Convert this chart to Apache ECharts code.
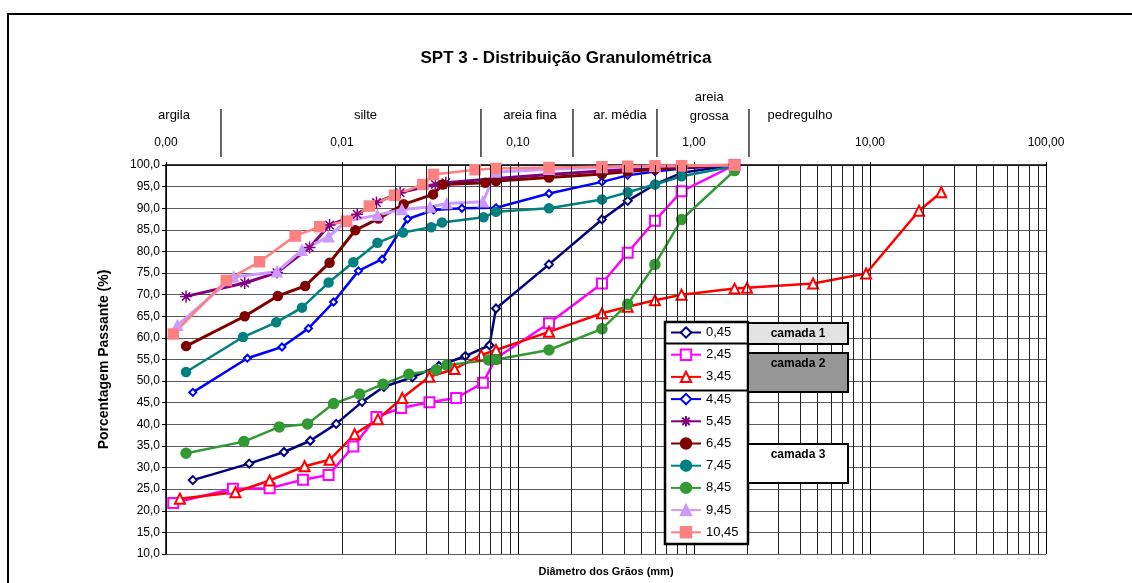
<!DOCTYPE html>
<html>
<head>
<meta charset="utf-8">
<title>SPT 3 - Distribuição Granulométrica</title>
<style>
html, body { margin: 0; padding: 0; background: #fff; }
#main { width: 1132px; height: 583px; }
</style>
</head>
<body>
<div id="main"></div>
<script src="https://cdn.jsdelivr.net/npm/echarts@6/dist/echarts.min.js"></script>
<script>
// diâmetro dos grãos (mm) e porcentagem passante (%) por profundidade
var d045 = [0.00142, 0.00297, 0.00468, 0.0066, 0.00927, 0.0130, 0.0173, 0.0251, 0.0355, 0.0502, 0.0689, 0.075, 0.15, 0.3, 0.42, 0.6, 0.85, 1.7];
var p045 = [27.1, 30.9, 33.6, 36.2, 40.1, 45.2, 48.7, 50.9, 53.5, 55.8, 58.3, 66.8, 77.0, 87.4, 91.7, 95.5, 98.2, 100];

var d245 = [0.0011, 0.0024, 0.00388, 0.006, 0.00839, 0.0116, 0.0157, 0.0217, 0.0314, 0.0445, 0.0632, 0.075, 0.15, 0.3, 0.42, 0.6, 0.85, 1.7];
var p245 = [21.8, 25.1, 25.2, 27.2, 28.3, 34.9, 41.7, 43.8, 45.1, 46.1, 49.6, 55.3, 63.4, 72.6, 79.7, 87.1, 93.9, 100];

var d345 = [0.0012, 0.00248, 0.00388, 0.00613, 0.0085, 0.0118, 0.016, 0.022, 0.0314, 0.0436, 0.0617, 0.075, 0.15, 0.3, 0.42, 0.6, 0.85, 1.7, 2.0, 4.75, 9.5, 19.0, 25.4];
var p345 = [22.8, 24.3, 27.0, 30.3, 31.8, 37.7, 41.2, 46.1, 51.0, 52.8, 56.0, 57.2, 61.4, 65.7, 67.2, 68.7, 70.0, 71.4, 71.6, 72.6, 74.9, 89.4, 93.7];

var d445 = [0.00142, 0.0029, 0.00456, 0.00645, 0.00895, 0.0124, 0.0169, 0.0236, 0.0331, 0.048, 0.075, 0.15, 0.3, 0.42, 0.6, 0.85, 1.7];
var p445 = [47.4, 55.3, 57.9, 62.2, 68.3, 75.5, 78.2, 87.5, 89.6, 90.0, 90.1, 93.4, 96.1, 97.6, 98.5, 99.2, 100];

var d545 = [0.0013, 0.0028, 0.00427, 0.00654, 0.0085, 0.0122, 0.0157, 0.0214, 0.0339, 0.0389, 0.075, 0.15, 0.3, 0.42, 0.6, 0.85, 1.7];
var p545 = [69.6, 72.7, 75.1, 80.9, 86.1, 88.6, 91.3, 93.6, 95.5, 95.9, 96.9, 97.8, 98.6, 99.0, 99.4, 99.7, 100];

var d645 = [0.0013, 0.0028, 0.00432, 0.00618, 0.0085, 0.0119, 0.0161, 0.0224, 0.0329, 0.0374, 0.0651, 0.075, 0.15, 0.3, 0.42, 0.6, 0.85, 1.7];
var p645 = [58.1, 65.0, 69.7, 72.0, 77.4, 84.9, 87.6, 90.9, 93.2, 95.5, 95.9, 96.3, 97.1, 97.9, 98.5, 99.0, 99.4, 100];

var d745 = [0.0013, 0.00274, 0.00423, 0.00592, 0.00839, 0.0116, 0.0159, 0.0222, 0.0321, 0.037, 0.0637, 0.075, 0.15, 0.3, 0.42, 0.6, 0.85, 1.7];
var p745 = [52.1, 60.2, 63.6, 67.0, 72.8, 77.5, 82.0, 84.4, 85.6, 86.7, 87.9, 89.2, 90.0, 92.0, 93.7, 95.5, 97.4, 99.7];

var d845 = [0.0013, 0.00277, 0.0044, 0.00637, 0.00895, 0.0126, 0.0171, 0.024, 0.0343, 0.0394, 0.068, 0.075, 0.15, 0.3, 0.42, 0.6, 0.85, 1.7];
var p845 = [33.3, 36.0, 39.4, 40.1, 44.8, 47.0, 49.3, 51.6, 52.6, 53.7, 54.9, 55.0, 57.2, 62.1, 67.8, 77.0, 87.4, 98.7];

var d945 = [0.00116, 0.00242, 0.00427, 0.00592, 0.00839, 0.0107, 0.0159, 0.0219, 0.0317, 0.0394, 0.0632, 0.075, 0.15, 0.3, 0.42, 0.6, 0.85, 1.7];
var p945 = [62.9, 74.1, 75.3, 80.3, 83.4, 87.1, 88.4, 89.7, 90.3, 91.1, 91.5, 98.4, 99.0, 99.4, 99.6, 99.7, 99.8, 100];

var d1045 = [0.0011, 0.0022, 0.0034, 0.00542, 0.00746, 0.0106, 0.0143, 0.0199, 0.0288, 0.0331, 0.0571, 0.075, 0.15, 0.3, 0.42, 0.6, 0.85, 1.7];
var p1045 = [60.9, 73.3, 77.6, 83.6, 85.7, 87.0, 90.5, 93.0, 95.5, 97.8, 98.9, 99.2, 99.4, 99.6, 99.7, 99.8, 99.8, 100];

// faixas granulométricas (limites em mm) e rótulos
var zoneLimits = [0.002, 0.06, 0.2, 0.6, 2.0];
var zoneNames = ['argila', 'silte', 'areia fina', 'ar. média', 'areia\ngrossa', 'pedregulho'];
var zoneLabelAt = [0.00111, 0.0136, 0.117, 0.38, 1.22, 4.0];

var camadas = ['camada 1', 'camada 2', 'camada 3'];

function pairs(d, p) {
    return d.map(function (v, i) { return [v, p[i]]; });
}

// linhas de grade secundárias do eixo logarítmico (2..9 em cada década)
var minorLines = [];
for (var k = -3; k < 2; k++) {
    for (var m = 2; m <= 9; m++) {
        minorLines.push({ xAxis: m * Math.pow(10, k) });
    }
}

var asterisk = 'path://M0,5L10,5M5,0L5,10M1.5,1.5L8.5,8.5M8.5,1.5L1.5,8.5';

function serie(name, data, color, symbol, size, width) {
    return {
        name: name,
        type: 'line',
        data: data,
        symbol: symbol,
        symbolSize: size,
        z: 3,
        lineStyle: { color: color, width: width },
        itemStyle: { color: color, borderColor: color, borderWidth: 1.5 }
    };
}

var myChart = echarts.init(document.getElementById('main'));
var font = 'Arial, "Liberation Sans", sans-serif';

var option = {
    animation: false,
    backgroundColor: '#fff',
    textStyle: { fontFamily: font },
    title: {
        text: 'SPT 3 - Distribuição Granulométrica',
        left: 'center',
        top: 45,
        textStyle: { fontSize: 17, fontWeight: 'bold', color: '#000', fontFamily: font }
    },
    grid: { left: 166, right: 86, top: 165, bottom: 29 },
    xAxis: {
        type: 'log',
        logBase: 10,
        min: 0.001,
        max: 100,
        position: 'top',
        axisLine: { lineStyle: { color: '#000', width: 1.5 } },
        axisTick: { show: true, length: 3, lineStyle: { color: '#000' } },
        axisLabel: {
            margin: 16,
            fontSize: 12,
            color: '#000',
            fontFamily: font,
            formatter: function (v) { return v.toFixed(2).replace('.', ','); }
        },
        splitLine: { show: true, lineStyle: { color: '#000', width: 1 } }
    },
    yAxis: {
        type: 'value',
        min: 10,
        max: 100,
        interval: 5,
        name: 'Porcentagem Passante (%)',
        nameLocation: 'middle',
        nameGap: 55,
        nameTextStyle: { fontSize: 14, fontWeight: 'bold', color: '#000', fontFamily: font },
        axisLine: { show: true, lineStyle: { color: '#000', width: 1.5 } },
        axisTick: { show: true, length: 4, lineStyle: { color: '#000' } },
        axisLabel: {
            margin: 6,
            fontSize: 12,
            color: '#000',
            fontFamily: font,
            formatter: function (v) { return v.toFixed(1).replace('.', ','); }
        },
        splitLine: { show: true, lineStyle: { color: '#5a5a5a', width: 1 } }
    },
    legend: {
        orient: 'vertical',
        left: 670,
        top: 326,
        padding: 0,
        itemWidth: 30,
        itemHeight: 13,
        itemGap: 9.2,
        z: 10,
        textStyle: { fontSize: 13, color: '#000', fontFamily: font, lineHeight: 13 },
        data: ['0,45', '2,45', '3,45', '4,45', '5,45', '6,45', '7,45', '8,45', '9,45', '10,45']
    },
    series: [
        {
            name: 'grade',
            type: 'line',
            data: [],
            z: 1,
            markLine: {
                silent: true,
                symbol: 'none',
                label: { show: false },
                lineStyle: { color: '#222', width: 1, type: 'solid' },
                data: minorLines
            }
        },
        serie('0,45', pairs(d045, p045), '#000080', 'emptyDiamond', 8, 2.5),
        serie('2,45', pairs(d245, p245), '#ff00ff', 'emptyRect', 10, 2.5),
        serie('3,45', pairs(d345, p345), '#ff0000', 'emptyTriangle', 10, 2.5),
        serie('4,45', pairs(d445, p445), '#0000ff', 'emptyDiamond', 7, 2.5),
        serie('5,45', pairs(d545, p545), '#800080', asterisk, 12, 3),
        serie('6,45', pairs(d645, p645), '#800000', 'circle', 9, 3),
        serie('7,45', pairs(d745, p745), '#008080', 'circle', 9, 2.5),
        serie('8,45', pairs(d845, p845), '#339933', 'circle', 10, 2.5),
        serie('9,45', pairs(d945, p945), '#cc99ff', 'triangle', 10, 3),
        serie('10,45', pairs(d1045, p1045), '#ff8080', 'rect', 10, 2.5)
    ]
};

myChart.setOption(option);

// elementos desenhados fora da área do gráfico
var elems = [];

// moldura externa
elems.push({ type: 'rect', z: 0, silent: true, shape: { x: 8, y: 14, width: 1200, height: 700 },
    style: { fill: 'none', stroke: '#000', lineWidth: 2 } });

zoneLimits.forEach(function (v) {
    var x = myChart.convertToPixel({ xAxisIndex: 0 }, v) + 2;
    elems.push({ type: 'line', silent: true, shape: { x1: x, y1: 109, x2: x, y2: 157 },
        style: { stroke: '#000', lineWidth: 1.2 } });
});

zoneNames.forEach(function (t, i) {
    var x = myChart.convertToPixel({ xAxisIndex: 0 }, zoneLabelAt[i]);
    var two = t.indexOf('\n') >= 0;
    elems.push({ type: 'text', silent: true, x: x, y: two ? 107 : 115,
        style: { text: t, fill: '#000', font: '13px ' + font, align: 'center', verticalAlign: 'middle', lineHeight: 19 } });
});

// nome do eixo x (abaixo do gráfico)
elems.push({ type: 'text', silent: true, x: (166 + 1046) / 2, y: 572,
    style: { text: 'Diâmetro dos Grãos (mm)', fill: '#000', font: 'bold 11px ' + font, align: 'center', verticalAlign: 'middle' } });

// caixa da legenda com divisões por camada
elems.push({ type: 'rect', z: 5, silent: true, shape: { x: 665, y: 322, width: 83, height: 222 },
    style: { fill: '#fff', stroke: '#000', lineWidth: 2.5 } });
elems.push({ type: 'line', z: 6, silent: true, shape: { x1: 665, y1: 343.5, x2: 748, y2: 343.5 },
    style: { stroke: '#000', lineWidth: 2 } });
elems.push({ type: 'line', z: 6, silent: true, shape: { x1: 665, y1: 390.5, x2: 748, y2: 390.5 },
    style: { stroke: '#000', lineWidth: 2 } });

var boxes = [
    { y: 323, h: 21, fill: '#e3e3e3' },
    { y: 353, h: 39, fill: '#969696' },
    { y: 444, h: 39, fill: '#fff' }
];
boxes.forEach(function (b, i) {
    elems.push({ type: 'rect', z: 5, silent: true, shape: { x: 748, y: b.y, width: 100, height: b.h },
        style: { fill: b.fill, stroke: '#000', lineWidth: 2 } });
    elems.push({ type: 'text', z: 6, silent: true, x: 798, y: b.y + 10.5,
        style: { text: camadas[i], fill: '#000', font: 'bold 12px ' + font, align: 'center', verticalAlign: 'middle' } });
});

myChart.setOption({ graphic: { elements: elems } });
</script>
</body>
</html>
